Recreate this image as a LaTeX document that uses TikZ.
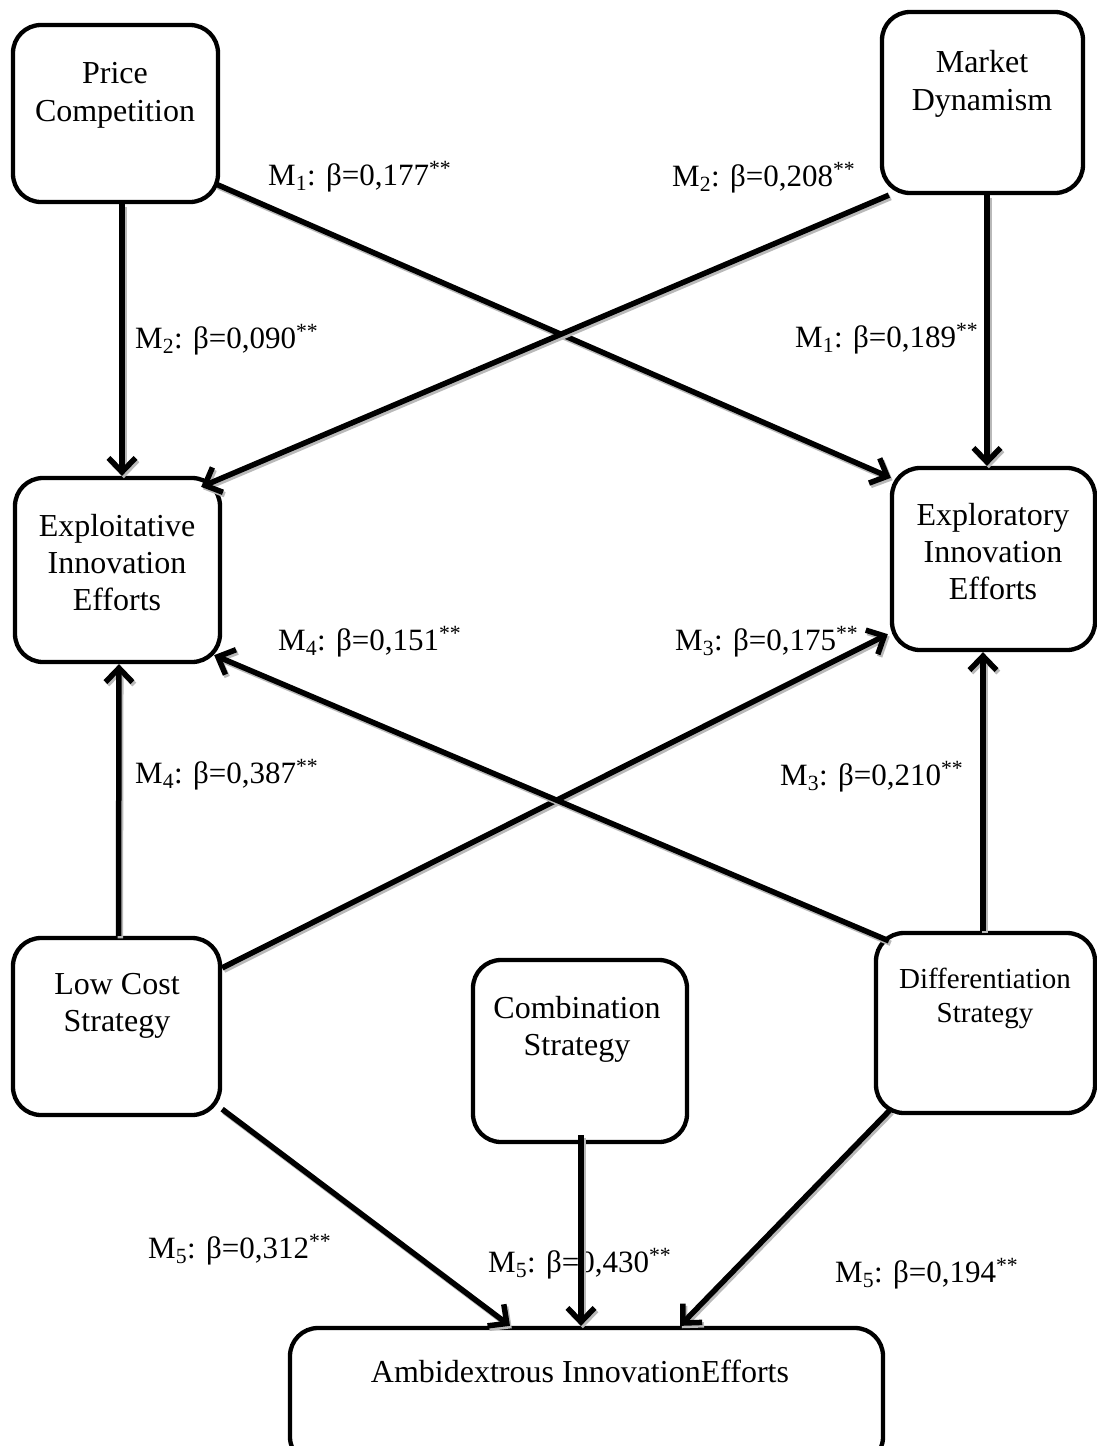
\documentclass[tikz,border=0pt]{standalone}
\usepackage{fontspec}
\setmainfont{Liberation Serif}
\usetikzlibrary{arrows.meta,calc}
\begin{document}
\begin{tikzpicture}[x=1pt,y=-1pt,
  box/.style={draw, line width=4.3pt, rounded corners=28pt, inner sep=0pt},
  txt/.style={align=center, inner sep=0pt, font=\fontsize{32}{38}\selectfont},
  lab/.style={inner sep=0pt, font=\fontsize{31}{37}\selectfont, anchor=base west},
  tipbarb/.tip={Straight Barb[length=14pt,width=27pt,line width=5.5pt]},
  arr/.style={line width=5.5pt, -tipbarb,
    preaction={draw=gray!55, line width=5.5pt,
      transform canvas={shift={(1.8pt,-2.4pt)}}}},
]
\useasboundingbox (0,0) rectangle (1097,1446);

% boxes
\node[box, minimum width=205pt, minimum height=177pt] (pc) at (115.5,113.5) {};
\node[box, minimum width=201pt, minimum height=181pt] (md) at (982.5,102.5) {};
\node[box, minimum width=205pt, minimum height=184pt] (ep) at (117.5,570) {};
\node[box, minimum width=203pt, minimum height=182pt] (er) at (993.5,559) {};
\node[box, minimum width=207pt, minimum height=177pt] (lc) at (116.5,1026.5) {};
\node[box, minimum width=214pt, minimum height=182pt] (cb) at (580,1051) {};
\node[box, minimum width=219pt, minimum height=180pt] (df) at (985.5,1023) {};
\node[box, minimum width=593pt, minimum height=137pt] (am) at (586.5,1396.5) {};

% box texts
\node[txt] (pc-t) at (115,95.5) {Price\\Competition};
\node[txt] (md-t) at (982,83.5) {Market\\Dynamism};
\node[txt, font=\fontsize{32}{37}\selectfont] (ep-t) at (117,562.5) {Exploitative\\Innovation\\Efforts};
\node[txt, font=\fontsize{32}{37}\selectfont] (er-t) at (993,551.5) {Exploratory\\Innovation\\Efforts};
\node[txt, font=\fontsize{32}{37}\selectfont] (lc-t) at (117,1006) {Low Cost\\Strategy};
\node[txt, font=\fontsize{32}{37}\selectfont] (cb-t) at (577,1029) {Combination\\Strategy};
\node[txt, font=\fontsize{29}{34}\selectfont] (df-t) at (985,998) {Differentiation\\Strategy};
\node[txt] (am-t) at (580,1371) {Ambidextrous InnovationEfforts};

% coefficients
\node[lab] (l1) at (268,185) {M\textsubscript{1}: β=0,177\textsuperscript{**}};
\node[lab] (l2) at (672,186) {M\textsubscript{2}: β=0,208\textsuperscript{**}};
\node[lab] (l3) at (135,348) {M\textsubscript{2}: β=0,090\textsuperscript{**}};
\node[lab] (l4) at (795,347) {M\textsubscript{1}: β=0,189\textsuperscript{**}};
\node[lab] (l5) at (278,650) {M\textsubscript{4}: β=0,151\textsuperscript{**}};
\node[lab] (l6) at (675,650) {M\textsubscript{3}: β=0,175\textsuperscript{**}};
\node[lab] (l7) at (135,783) {M\textsubscript{4}: β=0,387\textsuperscript{**}};
\node[lab] (l8) at (780,785) {M\textsubscript{3}: β=0,210\textsuperscript{**}};
\node[lab] (l9) at (148,1258) {M\textsubscript{5}: β=0,312\textsuperscript{**}};
\node[lab] (l10) at (488,1272) {M\textsubscript{5}: β=0,430\textsuperscript{**}};
\node[lab] (l11) at (835,1282) {M\textsubscript{5}: β=0,194\textsuperscript{**}};

% paths
\draw[arr] ([xshift=6.5pt]pc.south) -- ([xshift=4.5pt]ep.north);
\draw[arr] ([xshift=4.5pt]md.south) -- ([xshift=-6.5pt]er.north);
\draw[arr] ([shift={(-4pt,20pt)}]pc.south east) -- ([shift={(1pt,-12pt)}]er.north west);
\draw[arr] ([shift={(9pt,0pt)}]md.south west) -- ([shift={(-21pt,-11pt)}]ep.north east);
\draw[arr] ([xshift=2pt]lc.north) -- ([xshift=1.5pt]ep.south);
\draw[arr] ([xshift=-2.5pt]df.north) -- ([xshift=-10.5pt]er.south);
\draw[arr] ([shift={(0pt,-32pt)}]lc.north east) -- ([shift={(-2pt,18pt)}]er.south west);
\draw[arr] ([shift={(15pt,-10pt)}]df.north west) -- ([shift={(-8pt,9pt)}]ep.south east);
\draw[arr] ([shift={(0pt,8pt)}]lc.south east) -- ([xshift=-76.5pt]am.north);
\draw[arr] ([shift={(1pt,9pt)}]cb.south) -- ([xshift=-5.5pt]am.north);
\draw[arr] ([shift={(16pt,5pt)}]df.south west) -- ([xshift=93.5pt]am.north);
\end{tikzpicture}
\end{document}
